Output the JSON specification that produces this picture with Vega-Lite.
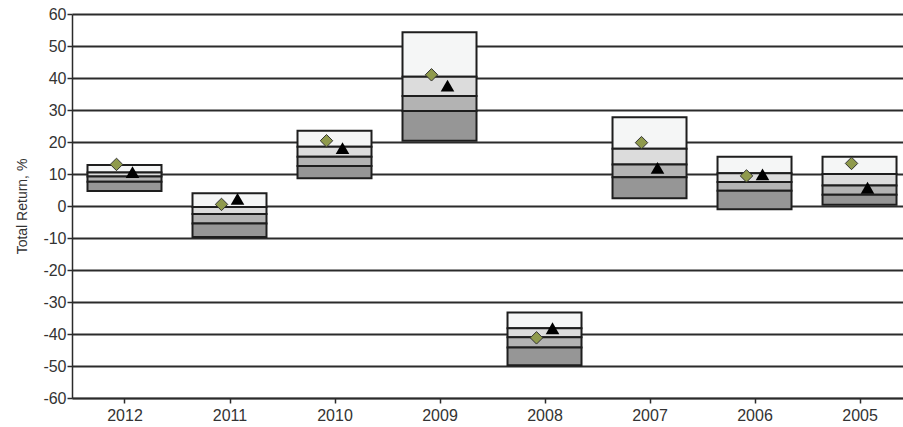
{
  "$schema": "https://vega.github.io/schema/vega-lite/v6.json",
  "autosize": {"type": "none"},
  "padding": {"left": 72, "top": 14, "right": 0, "bottom": 29},
  "width": 831,
  "height": 384,
  "background": "white",
  "config": {
    "view": {"stroke": null},
    "font": "Liberation Sans",
    "axisY": {
      "labelFont": "Liberation Sans",
      "titleFont": "Liberation Sans",
      "titleFontSize": 14,
      "titleFontWeight": "normal",
      "titleColor": "#333333",
      "titlePadding": 13,
      "labelFontSize": 16,
      "labelColor": "#333333",
      "labelPadding": 1,
      "domainColor": "#2b2b2b",
      "domainWidth": 1.5,
      "tickColor": "#2b2b2b",
      "tickWidth": 1.5,
      "tickSize": 5,
      "grid": true,
      "gridColor": "#2b2b2b",
      "gridWidth": 1.8
    }
  },
  "data": {
    "values": [
      {"year": "2012", "p5": 12.8, "p25": 10.5, "p50": 9.2, "p75": 7.6, "p95": 4.7, "fund": 13.0, "benchmark": 10.6},
      {"year": "2011", "p5": 4.0, "p25": -0.3, "p50": -2.5, "p75": -5.5, "p95": -9.7, "fund": 0.5, "benchmark": 2.2},
      {"year": "2010", "p5": 23.5, "p25": 18.5, "p50": 15.4, "p75": 12.5, "p95": 8.7, "fund": 20.4, "benchmark": 18.1},
      {"year": "2009", "p5": 54.3, "p25": 40.4, "p50": 34.4, "p75": 29.7, "p95": 20.4, "fund": 41.0, "benchmark": 37.6},
      {"year": "2008", "p5": -33.3, "p25": -38.2, "p50": -41.0, "p75": -44.2, "p95": -49.8, "fund": -41.2, "benchmark": -38.2},
      {"year": "2007", "p5": 27.7, "p25": 17.9, "p50": 13.0, "p75": 9.0, "p95": 2.4, "fund": 19.8, "benchmark": 11.9},
      {"year": "2006", "p5": 15.4, "p25": 10.2, "p50": 7.5, "p75": 4.8, "p95": -1.0, "fund": 9.4, "benchmark": 9.9},
      {"year": "2005", "p5": 15.4, "p25": 10.0, "p50": 6.4, "p75": 3.5, "p95": 0.4, "fund": 13.3, "benchmark": 5.7}
    ]
  },
  "encoding": {
    "x": {
      "field": "year",
      "type": "ordinal",
      "sort": ["2012", "2011", "2010", "2009", "2008", "2007", "2006", "2005"],
      "scale": {"type": "point", "padding": 0.457, "align": 0.547},
      "axis": {
        "title": null,
        "labelAngle": 0,
        "labelFont": "Liberation Sans",
        "labelFontSize": 16,
        "labelColor": "#333333",
        "labelPadding": 4,
        "domainColor": "#2b2b2b",
        "domainWidth": 1.5,
        "tickColor": "#2b2b2b",
        "tickWidth": 1.5,
        "tickSize": 5,
        "grid": false
      }
    }
  },
  "layer": [
    {
      "mark": {"type": "bar", "width": 74, "fill": "#f5f6f6", "stroke": "#1e1e1e", "strokeWidth": 2},
      "encoding": {
        "y": {
          "field": "p5",
          "type": "quantitative",
          "scale": {"domain": [-60, 60], "nice": false, "zero": false},
          "axis": {"title": "Total Return, %", "values": [-60, -50, -40, -30, -20, -10, 0, 10, 20, 30, 40, 50, 60], "labelExpr": "toString(datum.value)"}
        },
        "y2": {"field": "p25"}
      }
    },
    {
      "mark": {"type": "bar", "width": 74, "fill": "#dcdcdc", "stroke": "#1e1e1e", "strokeWidth": 2},
      "encoding": {
        "y": {"field": "p25", "type": "quantitative", "axis": {"title": "Total Return, %", "values": [-60, -50, -40, -30, -20, -10, 0, 10, 20, 30, 40, 50, 60], "labelExpr": "toString(datum.value)"}},
        "y2": {"field": "p50"}
      }
    },
    {
      "mark": {"type": "bar", "width": 74, "fill": "#b3b3b3", "stroke": "#1e1e1e", "strokeWidth": 2},
      "encoding": {
        "y": {"field": "p50", "type": "quantitative", "axis": {"title": "Total Return, %", "values": [-60, -50, -40, -30, -20, -10, 0, 10, 20, 30, 40, 50, 60], "labelExpr": "toString(datum.value)"}},
        "y2": {"field": "p75"}
      }
    },
    {
      "mark": {"type": "bar", "width": 74, "fill": "#969696", "stroke": "#1e1e1e", "strokeWidth": 2},
      "encoding": {
        "y": {"field": "p75", "type": "quantitative", "axis": {"title": "Total Return, %", "values": [-60, -50, -40, -30, -20, -10, 0, 10, 20, 30, 40, 50, 60], "labelExpr": "toString(datum.value)"}},
        "y2": {"field": "p95"}
      }
    },
    {
      "mark": {"type": "point", "shape": "diamond", "filled": true, "fill": "#8f9a4c", "stroke": "#333333", "strokeWidth": 1, "size": 155, "opacity": 1, "xOffset": -8},
      "encoding": {
        "y": {"field": "fund", "type": "quantitative", "axis": {"title": "Total Return, %", "values": [-60, -50, -40, -30, -20, -10, 0, 10, 20, 30, 40, 50, 60], "labelExpr": "toString(datum.value)"}}
      }
    },
    {
      "mark": {"type": "point", "shape": "triangle-up", "filled": true, "fill": "#000000", "size": 185, "opacity": 1, "xOffset": 8},
      "encoding": {
        "y": {"field": "benchmark", "type": "quantitative", "axis": {"title": "Total Return, %", "values": [-60, -50, -40, -30, -20, -10, 0, 10, 20, 30, 40, 50, 60], "labelExpr": "toString(datum.value)"}}
      }
    }
  ]
}
